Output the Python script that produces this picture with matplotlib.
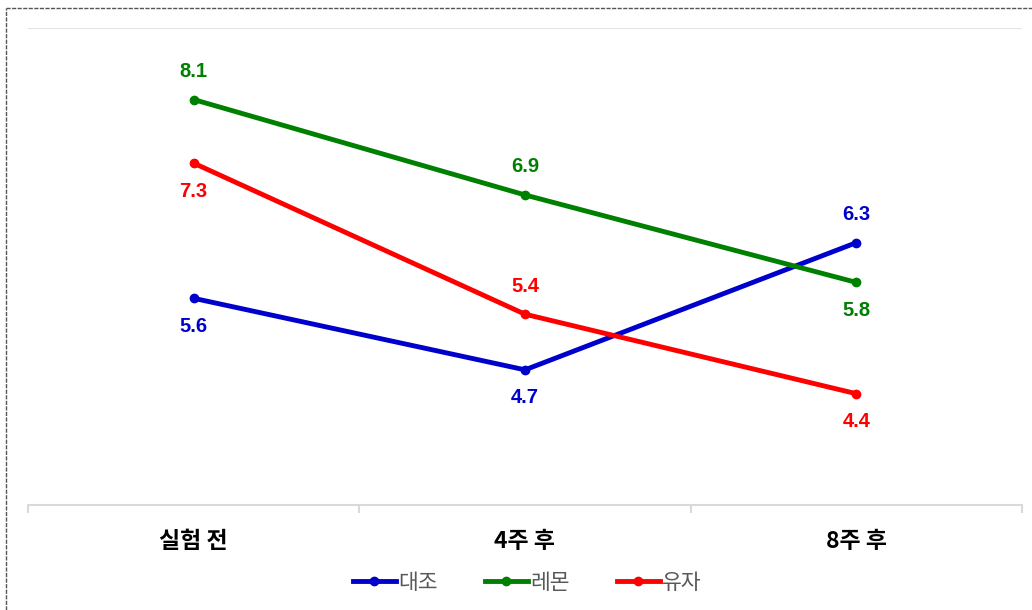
import matplotlib
matplotlib.use("Agg")
import matplotlib.pyplot as plt
from matplotlib.lines import Line2D

plt.rcParams['font.family'] = ['Noto Sans CJK KR', 'DejaVu Sans']

categories = ['실험 전', '4주 후', '8주 후']
series_names = ['대조', '레몬', '유자']
control = [5.6, 4.7, 6.3]
lemon = [8.1, 6.9, 5.8]
yuja = [7.3, 5.4, 4.4]
colors = ['#0000CC', '#008000', '#FF0000']
# label placement: +1 above, -1 below
label_pos = [[-1, -1, 1], [1, 1, -1], [-1, 1, -1]]

fig = plt.figure(figsize=(10.32, 6.10), dpi=100)
ax = fig.add_axes([28/1032, 1-505/610, (1022-28)/1032, (505-28)/610])

x = list(range(len(categories)))
for vals, c, name, lp in zip([control, lemon, yuja], colors, series_names, label_pos):
    ax.plot(x, vals, color=c, lw=3.5, marker='o', ms=6, label=name, solid_capstyle='round')
    for xi, v, p in zip(x, vals, lp):
        ax.annotate(f'{v:.1f}', (xi, v), xytext=(0, 28*p), textcoords='offset pixels',
                    ha='center', va='center', color=c, fontsize=14.5, fontweight='bold',
                    family=['Liberation Sans'])

ax.set_xlim(-0.5, 2.5)
ax.set_ylim(3, 9)
ax.set_yticks([])
ax.axhline(9, color='#E3E3E3', lw=1.5, zorder=0)
for s in ['top', 'left', 'right']:
    ax.spines[s].set_visible(False)
ax.spines['bottom'].set_color('#D9D9D9')
ax.spines['bottom'].set_linewidth(1.5)
ax.set_xticks(x)
ax.set_xticklabels(categories, fontsize=16.5, fontweight='bold')
ax.tick_params(axis='x', which='major', length=0, pad=18)
ax.set_xticks([-0.5, 0.5, 1.5, 2.5], minor=True)
ax.tick_params(axis='x', which='minor', length=6, color='#D9D9D9', width=1.5)

handles = [Line2D([0], [0], color=c, lw=3.5, marker='o', ms=6) for c in colors]
leg = fig.legend(handles, series_names, loc='center', bbox_to_anchor=(527/1032, 1-583/610),
                 ncol=3, frameon=False, fontsize=15.5, handlelength=2.0, handletextpad=0.1,
                 columnspacing=2.2)
for t in leg.get_texts():
    t.set_color('#595959')

# dashed border (top and left visible)
fig.add_artist(Line2D([6/1032, 1], [1-8/610, 1-8/610], color='#555555', lw=1, ls=(0, (3, 1)),
                      transform=fig.transFigure))
fig.add_artist(Line2D([6/1032, 6/1032], [0, 1-8/610], color='#555555', lw=1, ls=(0, (3, 1)),
                      transform=fig.transFigure))

fig.savefig('out.png', dpi=100)
